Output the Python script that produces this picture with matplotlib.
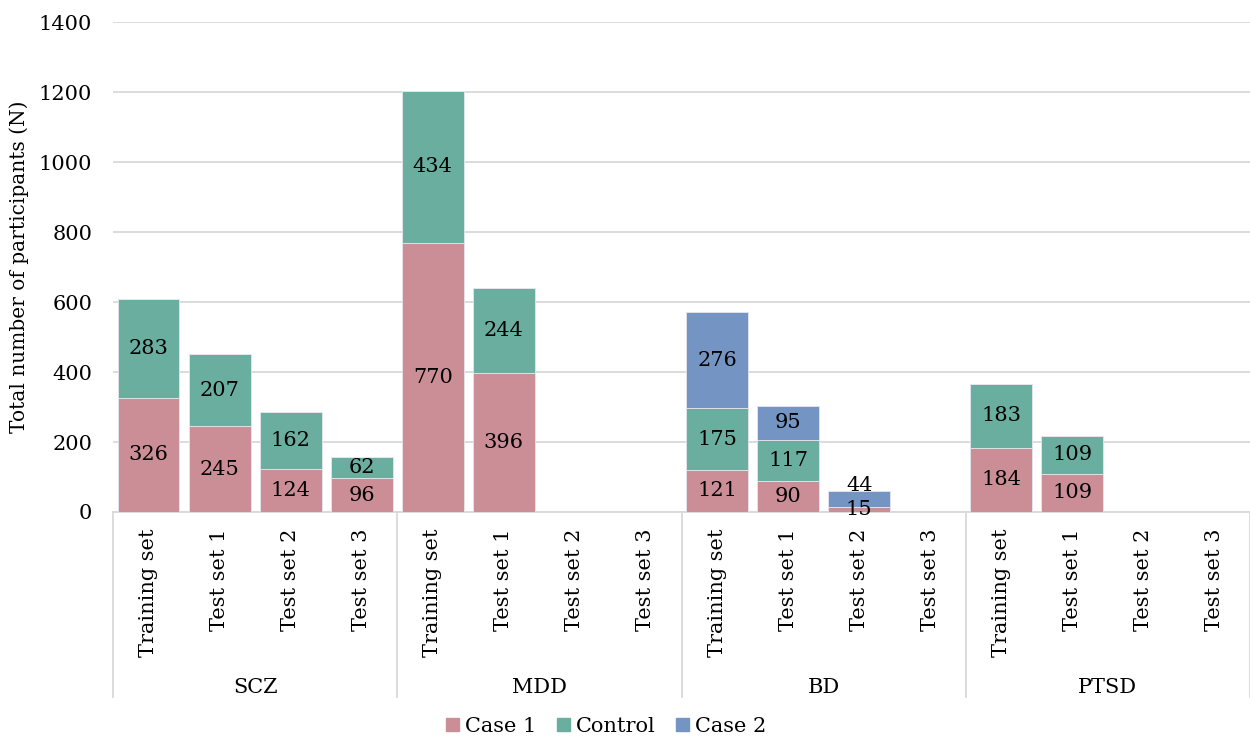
import numpy as np
import matplotlib.pyplot as plt
from matplotlib.patches import Patch
import matplotlib.transforms as mtransforms

plt.rcParams['font.family'] = ['DejaVu Serif']

groups = ['SCZ', 'MDD', 'BD', 'PTSD']
sets = ['Training set', 'Test set 1', 'Test set 2', 'Test set 3']

# one value per (group, set), 0 where the set does not exist
case1 = [326, 245, 124, 96, 770, 396, 0, 0, 121, 90, 15, 0, 184, 109, 0, 0]
control = [283, 207, 162, 62, 434, 244, 0, 0, 175, 117, 0, 0, 183, 109, 0, 0]
case2 = [0, 0, 0, 0, 0, 0, 0, 0, 276, 95, 44, 0, 0, 0, 0, 0]

c_case1 = '#CC8E96'
c_control = '#6AAE9F'
c_case2 = '#7494C4'

fig = plt.figure(figsize=(12.5, 7.37), dpi=100)
ax = fig.add_axes([0.0904, 0.3053, 0.9096, 0.6647])

x = np.arange(len(case1))
w = 0.87
c1 = np.array(case1)
ct = np.array(control)
c2 = np.array(case2)

ax.bar(x, c1, w, color=c_case1, edgecolor='#e6e6ee', linewidth=0.6, zorder=3)
ax.bar(x, ct, w, bottom=c1, color=c_control, edgecolor='#e6e6ee', linewidth=0.6, zorder=3)
ax.bar(x, c2, w, bottom=c1 + ct, color=c_case2, edgecolor='#e6e6ee', linewidth=0.6, zorder=3)

fs = 15
for i in x:
    if c1[i] > 0:
        ax.text(i, c1[i] / 2, str(c1[i]), ha='center', va='center', fontsize=fs, zorder=4)
    if ct[i] > 0:
        ax.text(i, c1[i] + ct[i] / 2, str(ct[i]), ha='center', va='center', fontsize=fs, zorder=4)
    if c2[i] > 0:
        y = c1[i] + ct[i] + c2[i] / 2
        if c2[i] < 60:
            # small segment: lift the label so it clears the one below
            y = c1[i] + ct[i] + c2[i] + 18
        ax.text(i, y, str(c2[i]), ha='center', va='center', fontsize=fs, zorder=4)

ax.set_ylim(0, 1400)
ax.set_xlim(-0.5, len(x) - 0.5)
ax.set_yticks(np.arange(0, 1401, 200))
ax.tick_params(axis='y', length=0, labelsize=fs, pad=15)
ax.yaxis.grid(True, color='#d9d9d9', linewidth=1.3, zorder=0)
ax.set_axisbelow(True)
for s in ['top', 'right', 'left']:
    ax.spines[s].set_visible(False)
ax.spines['bottom'].set_color('#d9d9d9')
ax.spines['bottom'].set_linewidth(1.3)

ax.set_xticks(x)
ax.set_xticklabels(sets * len(groups), rotation=90, fontsize=fs, va='top', ha='center')
ax.tick_params(axis='x', length=0, pad=12)

ax.set_ylabel('Total number of participants (N)', fontsize=14.5)
ax.yaxis.set_label_coords(-0.074, 0.5)

# group separators and group names below the set labels
trans = mtransforms.blended_transform_factory(ax.transData, ax.transAxes)
for k in range(len(groups) + 1):
    xs = k * 4 - 0.5
    ax.plot([xs, xs], [0, -0.378], color='#d9d9d9', linewidth=1.3, transform=trans, clip_on=False)
for k, g in enumerate(groups):
    ax.text(k * 4 + 1.5, -0.358, g, ha='center', va='center', fontsize=fs, transform=trans)

handles = [Patch(color=c_case1, label='Case 1'),
           Patch(color=c_control, label='Control'),
           Patch(color=c_case2, label='Case 2')]
fig.legend(handles=handles, loc='center', bbox_to_anchor=(0.485, 0.014), ncol=3, frameon=False,
           fontsize=fs, handlelength=0.6, handleheight=0.6, handletextpad=0.3, columnspacing=1.0)

fig.savefig('out.png', dpi=100)
